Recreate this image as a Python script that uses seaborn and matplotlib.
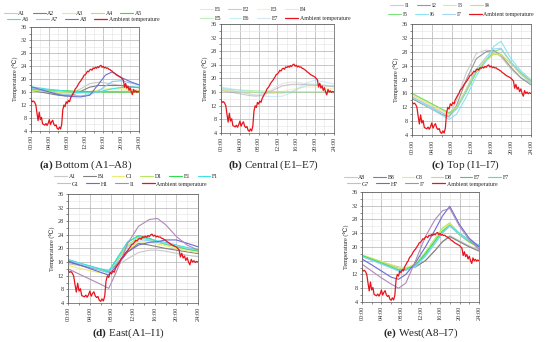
import numpy as np
import pandas as pd
import matplotlib
matplotlib.use("Agg")
import matplotlib.pyplot as plt
import seaborn as sns

# ambient temperature, every 15 minutes from 00:00 to 24:00
amb_hours = [i * 0.25 for i in range(97)]
ambient = [13.5, 13.0, 13.2, 12.8, 12.0, 9.5, 7.2, 9.8, 7.5, 8.2, 6.2, 6.0, 5.8, 6.3, 5.7, 6.4,
           7.5, 6.0, 6.8, 7.3, 6.1, 5.6, 5.9, 4.8, 4.5, 5.2, 4.6, 6.0, 10.5, 12.0, 11.5, 13.0,
           12.5, 13.4, 13.0, 14.2, 14.8, 15.5, 16.0, 16.9, 17.3, 17.8, 18.5, 19.0, 19.4, 20.0, 20.5, 21.2,
           21.3, 21.8, 22.4, 22.2, 22.8, 23.0, 22.7, 23.4, 23.2, 23.6, 23.3, 23.8, 23.5, 24.0, 24.2, 23.6,
           23.9, 23.4, 23.6, 23.3, 23.4, 23.0, 22.9, 22.6, 22.4, 22.0, 21.8, 21.5, 21.2, 21.0, 20.8, 20.6,
           20.4, 20.0, 19.6, 17.5, 18.6, 17.2, 17.8, 16.5, 17.3, 16.0, 15.2, 16.8, 16.0, 16.4, 15.9, 16.2,
           16.0]

# sensor readings at these hours
hours = [0, 2, 4, 6, 7.5, 9, 11, 13, 15, 16.5, 18, 20, 22, 24]

bottom = {
    "A1": [16.5, 16.2, 15.8, 15.3, 15.0, 15.6, 17.0, 18.6, 19.0, 18.8, 18.4, 18.0, 17.6, 17.4],
    "A2": [16.5, 16.0, 15.5, 15.0, 14.8, 15.0, 16.2, 17.5, 18.0, 18.0, 18.0, 18.0, 17.6, 17.3],
    "A3": [16.6, 16.4, 16.1, 15.8, 15.6, 15.5, 15.7, 16.2, 16.6, 16.9, 17.0, 17.0, 16.8, 16.6],
    "A4": [16.4, 16.3, 16.2, 16.1, 16.0, 16.0, 16.0, 16.0, 16.1, 16.1, 16.2, 16.2, 16.3, 16.3],
    "A5": [16.9, 16.7, 16.6, 16.5, 16.4, 16.3, 16.2, 16.1, 16.1, 16.0, 16.0, 16.0, 16.0, 16.0],
    "A6": [17.6, 17.2, 16.8, 16.5, 16.3, 16.0, 15.8, 15.7, 16.0, 16.5, 17.0, 17.4, 17.5, 17.5],
    "A7": [17.2, 16.6, 16.0, 15.5, 15.2, 15.0, 14.8, 15.2, 16.4, 17.8, 19.2, 19.5, 18.8, 18.2],
    "A8": [17.6, 16.8, 16.0, 15.2, 14.8, 14.6, 14.5, 15.0, 18.5, 21.2, 22.2, 20.5, 19.2, 18.2],
}
central = {
    "E1": [16.8, 16.4, 16.0, 15.5, 15.2, 15.6, 17.0, 18.5, 19.0, 18.8, 18.5, 18.3, 18.0, 17.8],
    "E2": [16.5, 16.0, 15.5, 15.0, 14.8, 15.2, 16.5, 17.8, 18.3, 18.3, 18.2, 18.0, 17.8, 17.6],
    "E3": [16.6, 16.4, 16.2, 16.0, 15.8, 15.7, 15.8, 16.2, 16.8, 17.2, 17.5, 17.5, 17.2, 17.0],
    "E4": [16.3, 16.2, 16.1, 16.0, 16.0, 16.0, 16.0, 16.0, 16.0, 16.1, 16.1, 16.1, 16.2, 16.2],
    "E5": [17.0, 16.8, 16.6, 16.5, 16.4, 16.3, 16.2, 16.1, 16.1, 16.0, 16.0, 16.0, 16.0, 16.0],
    "E6": [17.5, 17.0, 16.6, 16.2, 16.0, 15.8, 15.6, 15.6, 16.2, 17.0, 17.8, 18.2, 18.0, 17.8],
    "E7": [17.3, 16.6, 16.0, 15.4, 15.0, 14.8, 14.7, 14.8, 15.8, 17.2, 18.6, 19.5, 19.0, 18.4],
}
top = {
    "I1": [15.0, 13.5, 12.0, 10.5, 9.5, 14.0, 22.0, 27.5, 28.5, 28.0, 26.5, 23.0, 20.5, 19.0],
    "I2": [14.5, 13.0, 11.5, 10.0, 9.2, 12.5, 20.0, 26.0, 28.0, 28.4, 27.0, 23.5, 20.5, 18.5],
    "I3": [15.5, 14.0, 12.5, 11.0, 10.0, 12.0, 17.5, 23.0, 26.0, 27.5, 27.2, 24.5, 21.5, 19.5],
    "I4": [16.0, 14.5, 13.0, 11.5, 10.5, 12.0, 17.0, 22.5, 25.5, 27.2, 27.3, 24.5, 21.8, 19.8],
    "I5": [16.0, 14.5, 13.0, 11.5, 10.3, 11.5, 16.5, 22.0, 25.5, 28.0, 28.8, 25.0, 22.0, 19.5],
    "I6": [15.0, 13.2, 11.5, 9.8, 8.5, 10.0, 15.0, 21.0, 25.5, 29.5, 31.0, 26.0, 22.5, 20.0],
    "I7": [15.0, 13.5, 12.0, 10.5, 9.3, 11.5, 17.0, 23.0, 26.5, 28.8, 29.0, 25.0, 21.5, 19.0],
}
east = {
    "A1": [15.5, 15.0, 14.5, 14.0, 13.8, 15.0, 17.0, 18.8, 19.5, 19.5, 19.2, 18.6, 18.0, 17.6],
    "B1": [16.0, 15.2, 14.4, 13.6, 13.0, 15.5, 19.0, 21.5, 21.0, 20.5, 20.0, 19.5, 19.0, 18.5],
    "C1": [15.0, 14.2, 13.5, 12.8, 12.3, 15.0, 19.5, 22.0, 21.8, 21.3, 20.8, 20.0, 19.3, 18.8],
    "D1": [16.5, 15.6, 14.7, 13.8, 13.2, 16.5, 21.0, 23.2, 22.5, 21.8, 21.2, 20.5, 19.7, 19.2],
    "E1": [16.6, 15.7, 14.8, 13.9, 13.2, 17.0, 21.8, 23.8, 23.0, 22.0, 21.3, 20.6, 19.8, 19.3],
    "F1": [16.8, 15.8, 14.9, 14.0, 13.3, 17.0, 22.0, 23.5, 22.8, 22.2, 21.8, 21.0, 20.3, 19.6],
    "G1": [16.6, 15.6, 14.6, 13.6, 12.8, 16.0, 20.5, 22.6, 22.3, 21.8, 21.4, 20.8, 20.0, 19.5],
    "H1": [16.3, 15.2, 14.1, 13.0, 12.2, 15.0, 19.0, 21.0, 21.8, 22.0, 22.5, 22.5, 21.5, 20.5],
    "I1": [14.0, 12.5, 11.0, 9.5, 8.3, 13.5, 21.5, 26.5, 28.5, 28.8, 27.0, 23.5, 21.0, 19.5],
}
west = {
    "A8": [17.5, 16.6, 15.7, 14.8, 14.2, 14.0, 14.3, 16.0, 19.0, 21.5, 23.3, 21.8, 20.3, 19.2],
    "B8": [17.4, 16.5, 15.6, 14.7, 14.0, 13.8, 14.2, 16.0, 19.0, 21.5, 23.0, 21.5, 20.0, 18.8],
    "C8": [17.7, 16.8, 15.8, 14.8, 14.0, 14.0, 15.0, 18.0, 22.0, 25.0, 26.8, 23.5, 21.3, 19.8],
    "D8": [17.6, 16.6, 15.6, 14.5, 13.6, 13.6, 15.0, 18.5, 22.5, 25.5, 27.0, 23.8, 21.5, 20.0],
    "E7": [17.5, 16.4, 15.3, 14.2, 13.3, 13.4, 14.8, 18.0, 21.8, 24.6, 26.3, 23.5, 21.5, 20.0],
    "F7": [17.3, 16.2, 15.1, 14.0, 13.1, 13.3, 14.5, 17.5, 21.2, 24.2, 26.3, 24.0, 22.0, 20.5],
    "G7": [17.2, 16.1, 15.0, 13.9, 13.0, 13.2, 14.3, 17.2, 21.0, 24.0, 26.0, 23.6, 21.7, 20.3],
    "H7": [16.5, 14.8, 13.0, 11.2, 10.6, 12.0, 15.5, 20.0, 25.0, 29.0, 31.8, 26.5, 22.5, 20.0],
    "I7": [15.0, 13.0, 11.0, 9.2, 8.0, 9.5, 16.0, 23.0, 28.0, 30.5, 31.2, 26.0, 22.0, 19.3],
}

x_ticks = [0, 4, 8, 12, 16, 20, 24]
x_labels = ["00:00", "04:00", "08:00", "12:00", "16:00", "20:00", "24:00"]
y_ticks = [4, 8, 12, 16, 20, 24, 28, 32, 36]

sns.set_style("ticks")
plt.rcParams["font.family"] = ["Liberation Serif", "DejaVu Serif", "DejaVu Sans"]
plt.rcParams["mathtext.fontset"] = "custom"
plt.rcParams["mathtext.rm"] = "Liberation Serif"
plt.rcParams["mathtext.bf"] = "Liberation Serif:bold"

pal8 = ["#c8c8c8", "#7f7f7f", "#ecec70", "#b5e655", "#3ddc3d", "#40e0e8", "#87c8f0", "#7070d0"]
pal7 = ["#c8c8c8", "#8c8c8c", "#f0e070", "#c0e060", "#70e070", "#80e0f0", "#a0d0f0"]
pal9 = ["#c8c8c8", "#808080", "#ecec70", "#b8e860", "#30dd50", "#40e0e8", "#90d0f8", "#6a6ad8", "#b088b8"]
red = "#e8141c"

fig = plt.figure(figsize=(5.5, 3.42), dpi=100)

panels = [
    # data, colors, alpha, axes rect, legend rows (x, y), ncol, caption, caption pos
    (bottom, pal8, 1.0, [0.057, 0.617, 0.196, 0.304], [(0.007, 0.961), (0.013, 0.944)], 5,
     r"$\mathbf{(a)}$ Bottom (A1–A8)", (0.155, 0.518)),
    (central, pal7, 0.45, [0.402, 0.611, 0.205, 0.319], [(0.364, 0.971), (0.364, 0.947)], 4,
     r"$\mathbf{(b)}$ Central (E1–E7)", (0.497, 0.518)),
    (top, pal7, 0.9, [0.749, 0.605, 0.216, 0.325], [(0.709, 0.985), (0.706, 0.959)], 4,
     r"$\mathbf{(c)}$ Top (I1–I7)", (0.846, 0.518)),
    (east, pal9, 1.0, [0.124, 0.114, 0.236, 0.319], [(0.098, 0.483), (0.104, 0.462)], 6,
     r"$\mathbf{(d)}$ East(A1–I1)", (0.233, 0.027)),
    (west, pal9, 1.0, [0.658, 0.117, 0.213, 0.322], [(0.625, 0.482), (0.631, 0.462)], 6,
     r"$\mathbf{(e)}$ West(A8–I7)", (0.765, 0.027)),
]

for data, colors, alpha, rect, rows, ncol, caption, cpos in panels:
    ax = fig.add_axes(rect)
    df = pd.DataFrame(data)
    df["hour"] = hours
    long = df.melt(id_vars="hour", var_name="sensor", value_name="temp")
    sns.lineplot(data=long, x="hour", y="temp", hue="sensor", palette=colors,
                 ax=ax, lw=0.8, alpha=alpha, legend=False)
    sns.lineplot(x=amb_hours, y=ambient, color=red, lw=0.9, ax=ax)

    ax.set_xlim(0, 24)
    ax.set_ylim(4, 36)
    ax.set_xticks(x_ticks)
    ax.set_xticklabels(x_labels, rotation=90, fontsize=4.5)
    ax.set_xticks(range(0, 25, 2), minor=True)
    ax.set_yticks(y_ticks)
    ax.set_yticks(range(4, 37, 2), minor=True)
    ax.tick_params(axis="y", labelsize=4.5)
    ax.tick_params(which="both", length=1.5, width=0.4, pad=1.5, colors="#333333")
    ax.grid(which="major", color="#b0b0b0", lw=0.5)
    ax.grid(which="minor", color="#e4e4e4", lw=0.4)
    for sp in ax.spines.values():
        sp.set_visible(True)
        sp.set_linewidth(0.5)
        sp.set_color("#555555")
    ax.set_xlabel("")
    ax.set_ylabel("Temperature (℃)", fontsize=4.5, labelpad=2)

    lines = ax.get_lines()
    handles = lines[:len(data)] + [lines[len(data)]]
    labels = list(data.keys()) + ["Ambient temperature"]
    # two single-row legends so the rows are filled left to right
    for r, (lx, ly) in enumerate(rows):
        h = handles[r * ncol:(r + 1) * ncol]
        l = labels[r * ncol:(r + 1) * ncol]
        leg = fig.legend(h, l, loc="center left", bbox_to_anchor=(lx, ly), ncol=len(h),
                         fontsize=4.2, frameon=False, handlelength=2.2, handletextpad=0.3,
                         columnspacing=1.25, borderpad=0, borderaxespad=0)

    fig.text(cpos[0], cpos[1], caption, ha="center", va="center", fontsize=8)

fig.savefig("out.png", dpi=100)
